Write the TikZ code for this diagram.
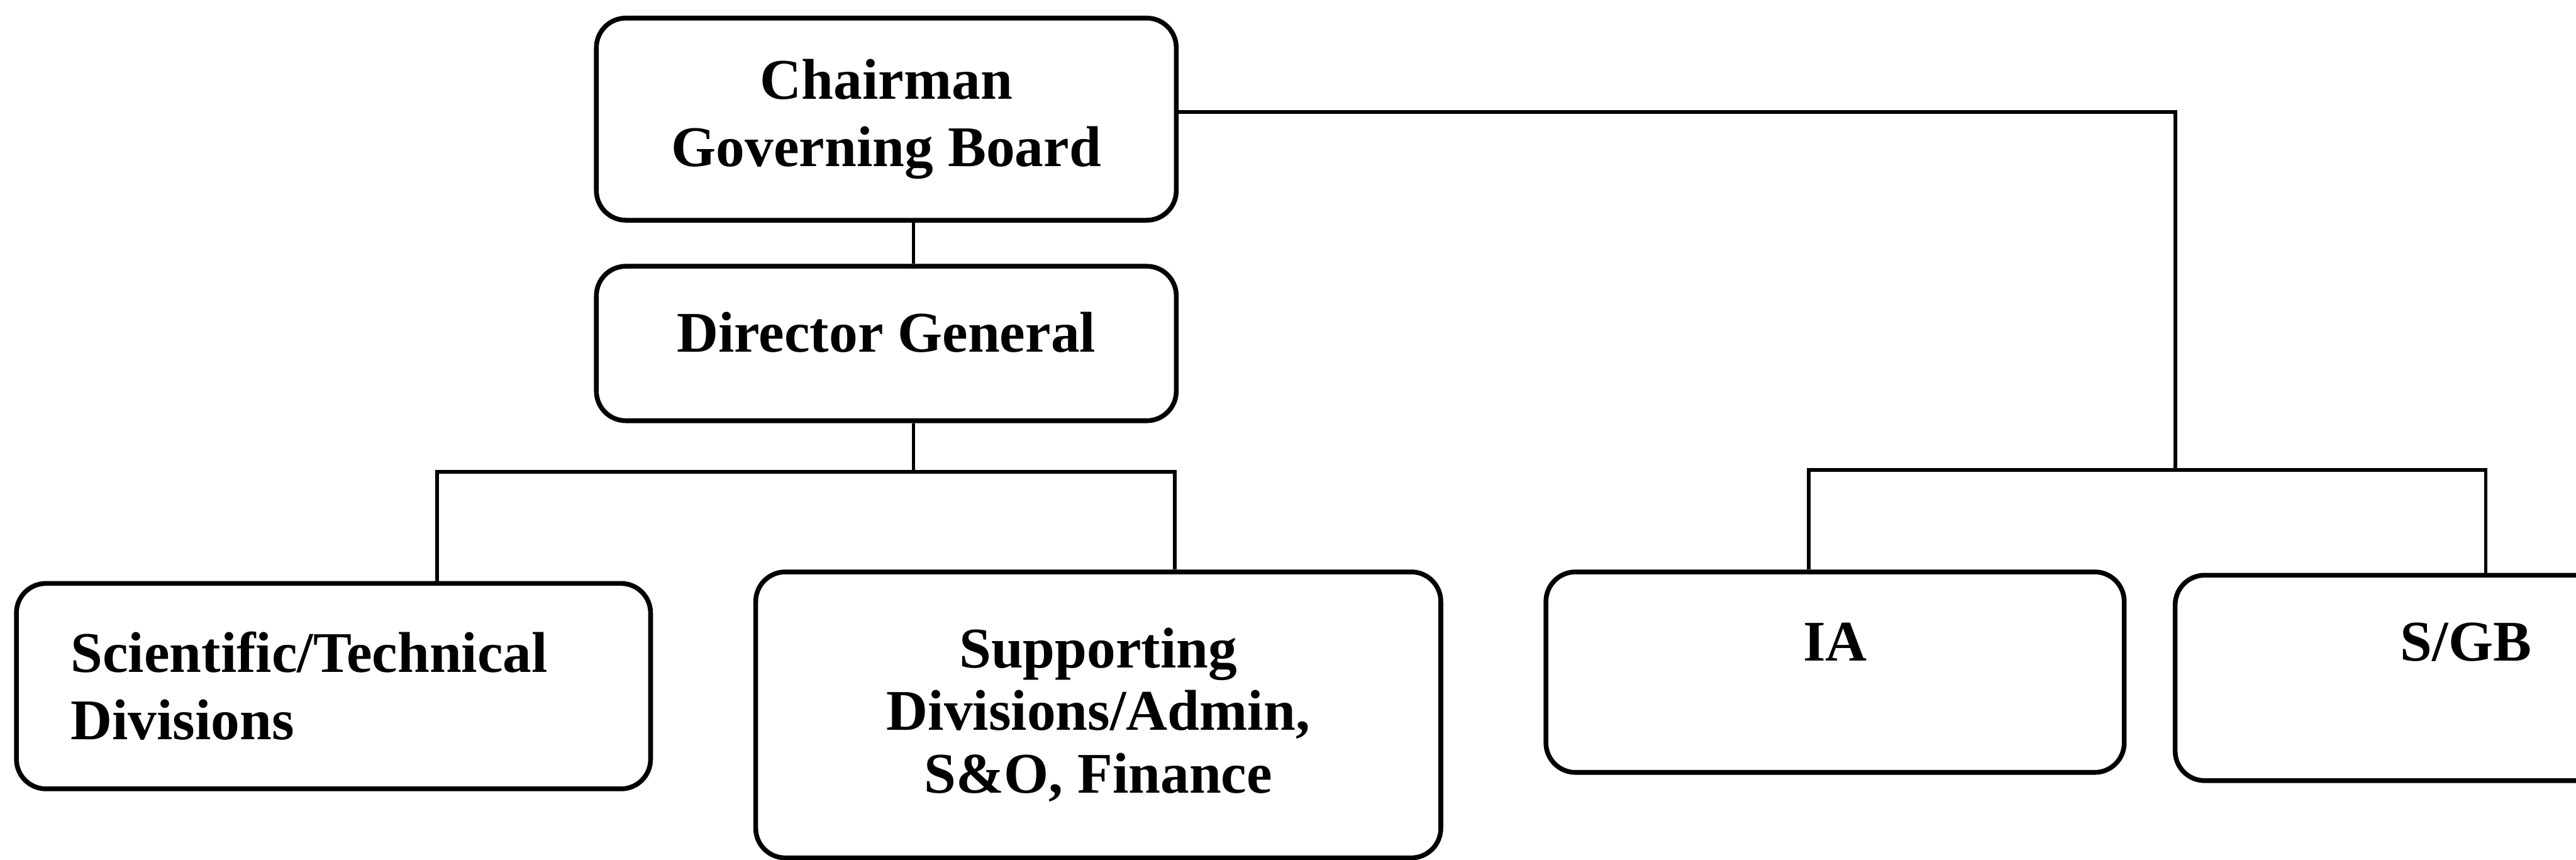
\documentclass[tikz,border=0pt]{standalone}
\usepackage{fontspec}
\setmainfont{Liberation Serif}
\begin{document}
\begin{tikzpicture}[x=1pt,y=-1pt,
  box/.style={draw, line width=2.9pt, rounded corners=18pt, inner sep=0pt,
    font=\fontsize{35}{41}\selectfont\bfseries},
  conn/.style={line width=2.2pt}]
\useasboundingbox (0,0) rectangle (1568,523);
\node[box, minimum width=353pt, minimum height=123pt, align=center] (chair) at (539.5,72.5) {Chairman\\Governing Board};
\node[box, minimum width=353pt, text height=52pt, text depth=42pt] (dg) at (539.5,209) {Director General};
\node[box, minimum width=386pt, minimum height=125pt, text width=320pt, align=left] (sci) at (203,417.5) {Scientific/Technical\\Divisions};
\node[box, minimum width=417pt, minimum height=174pt, align=center, font=\fontsize{35}{38}\selectfont\bfseries] (sup) at (668.5,435) {Supporting\\Divisions/Admin,\\S\&O, Finance};
\node[box, minimum width=352pt, text height=54pt, text depth=68pt] (ia) at (1117,409) {IA};
\node[box, minimum width=354pt, text height=52pt, text depth=73pt] (sgb) at (1501,412.5) {S/GB};
\coordinate (j1) at (556,287);
\coordinate (bl) at (266,287);
\coordinate (br) at (715,287);
\coordinate (cr) at (1324,68);
\coordinate (rj) at (1324,286);
\coordinate (rl) at (1101,286);
\coordinate (rr) at (1513,286);
\draw[conn] (chair.south -| j1) -- (dg.north -| j1);
\draw[conn] (dg.south -| j1) -- (j1);
\draw[conn] (sci.north -| bl) -- (bl) -- (br) -- (sup.north -| br);
\draw[conn] (chair.east |- cr) -- (cr) -- (rj);
\draw[conn] (ia.north -| rl) -- (rl) -- (rr) -- (sgb.north -| rr);
\end{tikzpicture}
\end{document}
